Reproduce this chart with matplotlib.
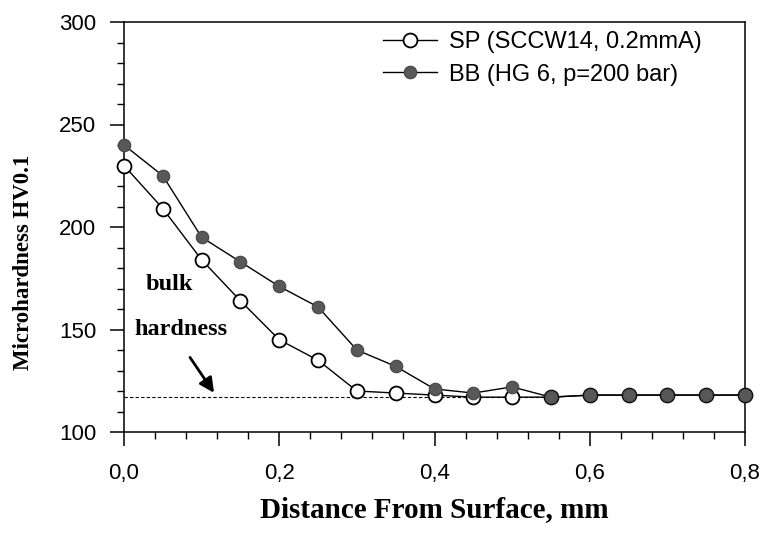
import matplotlib
matplotlib.use('Agg')
import matplotlib.pyplot as plt
from matplotlib.ticker import MultipleLocator, FuncFormatter

# Data
distance = [0.0, 0.05, 0.10, 0.15, 0.20, 0.25, 0.30, 0.35, 0.40, 0.45, 0.50,
            0.55, 0.60, 0.65, 0.70, 0.75, 0.80]
sp_hardness = [230, 209, 184, 164, 145, 135, 120, 119, 118, 117, 117,
               117, 118, 118, 118, 118, 118]
bb_hardness = [240, 225, 195, 183, 171, 161, 140, 132, 121, 119, 122,
               117, 118, 118, 118, 118, 118]
bulk_hardness = 117
bulk_line_end = 0.55

sp_label = 'SP (SCCW14, 0.2mmA)'
bb_label = 'BB (HG 6, p=200 bar)'

sans = 'Liberation Sans'
serif = 'Liberation Serif'

fig = plt.figure(figsize=(7.65, 5.38), dpi=100)
ax = fig.add_axes([124 / 765, (538 - 432) / 538, 621 / 765, 410 / 538])

# Bulk hardness reference line
ax.plot([0, bulk_line_end], [bulk_hardness, bulk_hardness], color='black',
        lw=0.8, ls=(0, (3, 2)), zorder=1)

ax.plot(distance, sp_hardness, color='black', lw=1.0, marker='o', ms=10,
        mfc='white', mec='black', mew=1.3, label=sp_label, clip_on=False, zorder=3)
ax.plot(distance, bb_hardness, color='black', lw=1.0, marker='o', ms=9,
        mfc='#585858', mec='#454545', mew=0.8, label=bb_label, clip_on=False, zorder=4)

ax.text(0.058, 172, 'bulk', family=serif, weight='bold', fontsize=17.5,
        ha='center', va='center')
ax.text(0.074, 150, 'hardness', family=serif, weight='bold', fontsize=17.5,
        ha='center', va='center')
ax.annotate('', xy=(0.118, 118), xytext=(0.083, 137.5),
            arrowprops=dict(arrowstyle='-|>', color='black', lw=2.0,
                            mutation_scale=22))

ax.set_xlim(0, 0.8)
ax.set_ylim(100, 300)
ax.xaxis.set_major_locator(MultipleLocator(0.2))
ax.xaxis.set_minor_locator(MultipleLocator(0.04))
ax.yaxis.set_major_locator(MultipleLocator(50))
ax.yaxis.set_minor_locator(MultipleLocator(10))
ax.xaxis.set_major_formatter(FuncFormatter(lambda v, p: f'{v:.1f}'.replace('.', ',')))
ax.yaxis.set_major_formatter(FuncFormatter(lambda v, p: f'{v:.0f}'))

ax.tick_params(which='major', direction='out', length=10, width=1.1, color='black')
ax.tick_params(which='minor', direction='out', length=5, width=1.0, color='black')
ax.tick_params(axis='x', which='major', pad=12)
ax.tick_params(axis='y', which='major', pad=10)
for lab in ax.get_xticklabels() + ax.get_yticklabels():
    lab.set_family(sans)
    lab.set_fontsize(16)

for sp in ax.spines.values():
    sp.set_linewidth(1.1)

ax.set_xlabel('Distance From Surface, mm', family=serif, weight='bold', fontsize=21)
ax.xaxis.label.set_va('center')
ax.xaxis.set_label_coords(0.5, (432 - 510) / 410)
ax.set_ylabel('Microhardness HV0.1', family=serif, weight='bold', fontsize=16.5)
ax.yaxis.label.set_va('center')
ax.yaxis.set_label_coords((24 - 124) / 621, (432 - 262) / 410)

ax.legend(loc='upper left', bbox_to_anchor=((383 - 124) / 621, (432 - 31) / 410),
          frameon=False, prop={'family': sans, 'size': 17}, borderpad=0,
          borderaxespad=0, handlelength=2.3, handletextpad=0.5, labelspacing=0.45)

fig.savefig('out.png', dpi=100)
